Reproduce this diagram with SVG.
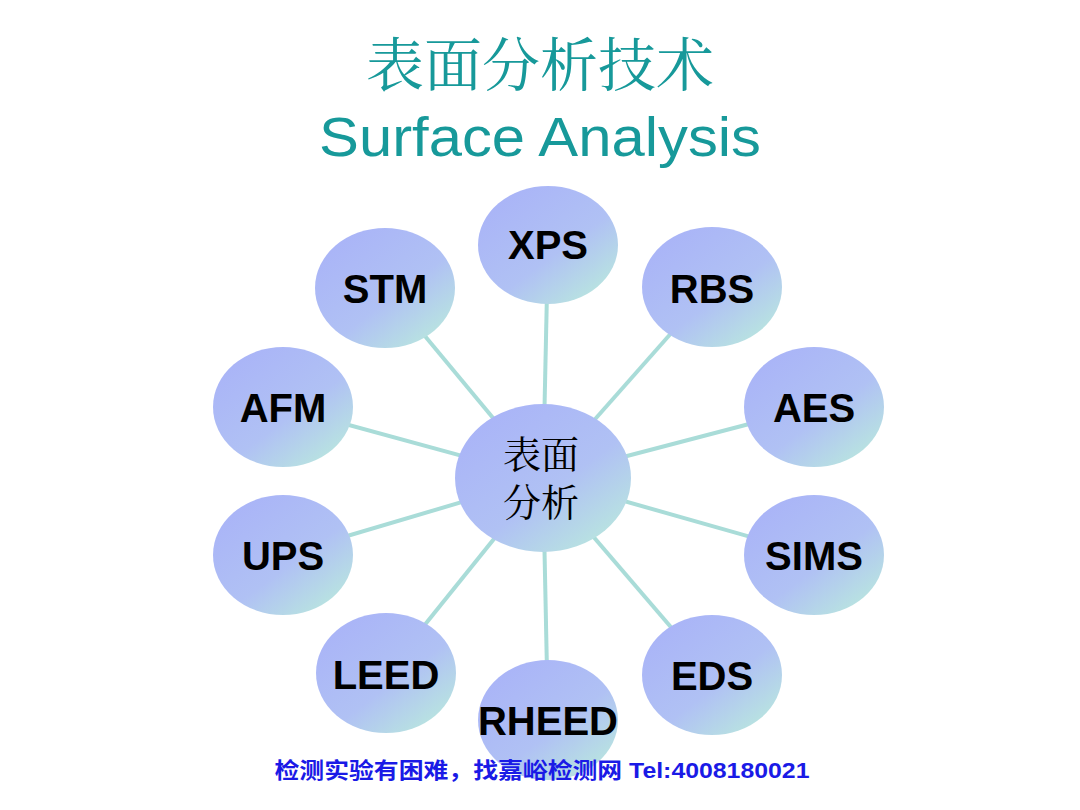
<svg xmlns="http://www.w3.org/2000/svg" width="1080" height="810" viewBox="0 0 1080 810">
<defs>
<linearGradient id="g" x1="0.15" y1="0.15" x2="0.85" y2="0.95">
<stop offset="0" stop-color="#aab5f7"/>
<stop offset="0.55" stop-color="#b0c1f4"/>
<stop offset="1" stop-color="#b9e6df"/>
</linearGradient>
<style>
.n{fill:url(#g);}
.t{font-family:"Liberation Sans",Arial,sans-serif;font-weight:bold;font-size:40px;fill:#000;text-anchor:middle;}
.c{stroke:#a9dcd8;stroke-width:4;fill:none;}
.z{font-family:"Noto Serif CJK SC","Noto Sans CJK SC",serif;font-size:38px;fill:#000;text-anchor:middle;}
</style>
</defs>
<rect width="1080" height="810" fill="#fff"/>
<text x="540" y="86" font-family="'Noto Serif CJK SC','Noto Sans CJK SC',serif" font-size="58" fill="#17999a" text-anchor="middle">表面分析技术</text>
<text x="540" y="156" font-family="'Liberation Sans',Arial,sans-serif" font-size="56" fill="#17999a" text-anchor="middle" textLength="442" lengthAdjust="spacingAndGlyphs">Surface Analysis</text>
<g id="connectors">
<line class="c" x1="543" y1="478" x2="548" y2="245"/>
<line class="c" x1="543" y1="478" x2="385" y2="288"/>
<line class="c" x1="543" y1="478" x2="712" y2="287"/>
<line class="c" x1="543" y1="478" x2="283" y2="407"/>
<line class="c" x1="543" y1="478" x2="814" y2="407"/>
<line class="c" x1="543" y1="478" x2="283" y2="555"/>
<line class="c" x1="543" y1="478" x2="814" y2="555"/>
<line class="c" x1="543" y1="478" x2="386" y2="673"/>
<line class="c" x1="543" y1="478" x2="712" y2="675"/>
<line class="c" x1="543" y1="478" x2="548" y2="720"/>
</g>
<g id="xps"><ellipse class="n" cx="548" cy="245" rx="70" ry="59"/><text class="t" x="548" y="259">XPS</text></g>
<g id="stm"><ellipse class="n" cx="385" cy="288" rx="70" ry="60"/><text class="t" x="385" y="303">STM</text></g>
<g id="rbs"><ellipse class="n" cx="712" cy="287" rx="70" ry="60"/><text class="t" x="712" y="303">RBS</text></g>
<g id="afm"><ellipse class="n" cx="283" cy="407" rx="70" ry="60"/><text class="t" x="283" y="422">AFM</text></g>
<g id="aes"><ellipse class="n" cx="814" cy="407" rx="70" ry="60"/><text class="t" x="814" y="422">AES</text></g>
<g id="ups"><ellipse class="n" cx="283" cy="555" rx="70" ry="60"/><text class="t" x="283" y="570">UPS</text></g>
<g id="sims"><ellipse class="n" cx="814" cy="555" rx="70" ry="60"/><text class="t" x="814" y="570">SIMS</text></g>
<g id="leed"><ellipse class="n" cx="386" cy="673" rx="70" ry="60"/><text class="t" x="386" y="689">LEED</text></g>
<g id="eds"><ellipse class="n" cx="712" cy="675" rx="70" ry="60"/><text class="t" x="712" y="690">EDS</text></g>
<g id="rheed"><ellipse class="n" cx="548" cy="720" rx="70" ry="60"/><text class="t" x="548" y="735">RHEED</text></g>
<g id="center"><ellipse class="n" cx="543" cy="478" rx="88" ry="74"/>
<text class="z"><tspan x="541" y="468">表面</tspan><tspan x="541" y="516">分析</tspan></text>
</g>
<text x="542" y="778" font-family="'Liberation Sans','Noto Sans CJK SC',sans-serif" font-weight="bold" font-size="22" fill="#1a1ae6" text-anchor="middle" textLength="535" lengthAdjust="spacingAndGlyphs">检测实验有困难，找嘉峪检测网 Tel:4008180021</text>
</svg>
